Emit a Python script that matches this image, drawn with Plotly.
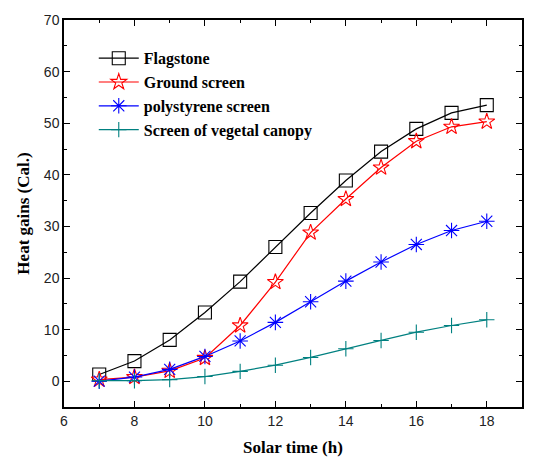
import plotly.graph_objects as go

hours = [7, 8, 9, 10, 11, 12, 13, 14, 15, 16, 17, 18]
flagstone = [1.3, 3.9, 8.0, 13.3, 19.3, 26.0, 32.6, 38.9, 44.5, 48.9, 52.0, 53.5]
ground = [0.3, 0.8, 2.0, 4.5, 10.8, 19.2, 28.8, 35.3, 41.4, 46.5, 49.3, 50.3]
polystyrene = [0.0, 0.8, 2.3, 4.8, 7.8, 11.4, 15.4, 19.4, 23.1, 26.5, 29.2, 31.0]
vegetal = [0.1, 0.1, 0.3, 0.9, 1.9, 3.1, 4.6, 6.3, 7.9, 9.5, 10.8, 11.9]

series = [
    ("Flagstone", flagstone, "black", "square-open", 13),
    ("Ground screen", ground, "red", "star-open", 12),
    ("polystyrene screen", polystyrene, "blue", "asterisk-open", 13),
    ("Screen of vegetal canopy", vegetal, "#008080", "cross-thin-open", 11),
]

fig = go.Figure()
for name, vals, color, sym, size in series:
    fig.add_trace(go.Scatter(
        x=hours, y=vals, name="<b>" + name + "</b>", mode="lines+markers",
        line=dict(color=color, width=1.2),
        marker=dict(symbol=sym, size=size, color=color,
                    line=dict(color=color, width=1.1)),
    ))

axis_common = dict(
    showline=True, linecolor="black", linewidth=1.5, mirror="ticks",
    ticks="inside", ticklen=6, tickwidth=1.3, tickcolor="black",
    showgrid=False, zeroline=False,
    tickfont=dict(family="Liberation Sans", size=14, color="#222"),
)

fig.update_xaxes(
    range=[6, 19], tick0=6, dtick=2,
    minor=dict(dtick=1, ticks="inside", ticklen=3, tickcolor="black", tickwidth=1.2),
    title=dict(text="<b>Solar time (h)</b>", standoff=14,
               font=dict(family="Times New Roman, Liberation Serif, serif", size=17, color="black")),
    **axis_common,
)
fig.update_yaxes(
    range=[-5, 70], tick0=0, dtick=10,
    minor=dict(dtick=5, ticks="inside", ticklen=3, tickcolor="black", tickwidth=1.2),
    title=dict(text="<b>Heat gains (Cal.)</b>", standoff=10,
               font=dict(family="Times New Roman, Liberation Serif, serif", size=17, color="black")),
    **axis_common,
)

fig.update_layout(
    width=542, height=466,
    margin=dict(l=64, r=20, t=20, b=59),
    plot_bgcolor="white", paper_bgcolor="white",
    legend=dict(
        x=0.065, y=0.945, xanchor="left", yanchor="top",
        bgcolor="rgba(0,0,0,0)",
        font=dict(family="Times New Roman, Liberation Serif, serif", size=16, color="black"),
        tracegroupgap=0, itemwidth=40,
    ),
)

fig.write_html("out.html")
